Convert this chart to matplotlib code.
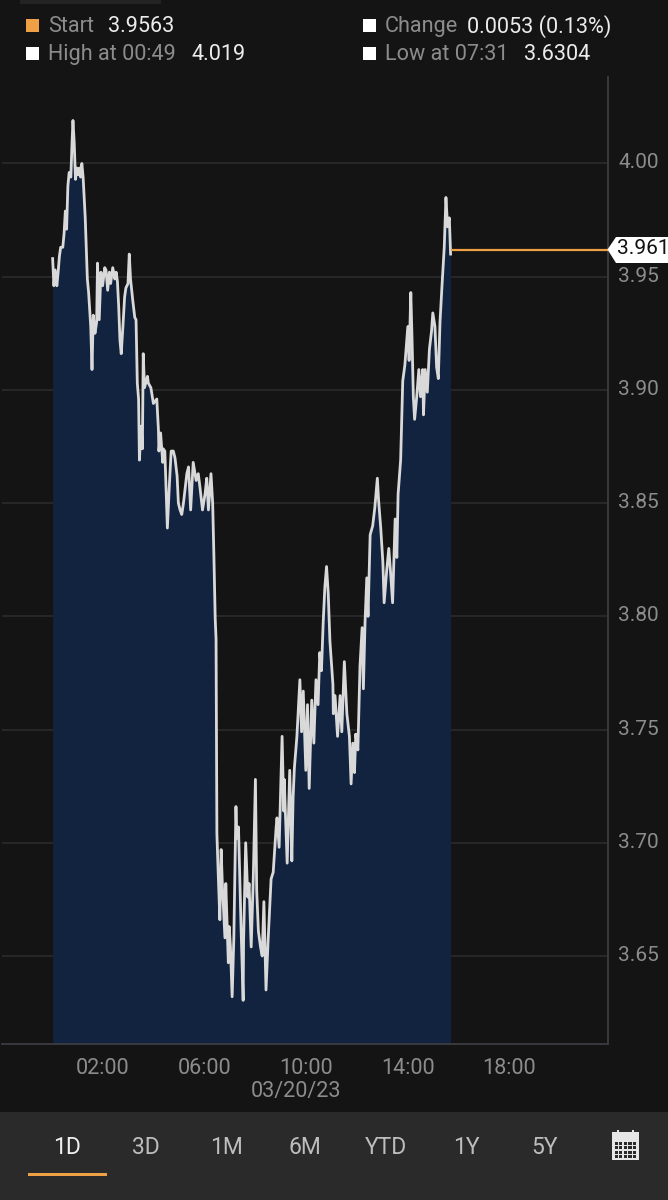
import matplotlib
matplotlib.use("Agg")
import matplotlib.pyplot as plt
from matplotlib.patches import Rectangle, Polygon
from matplotlib.transforms import ScaledTranslation

plt.rcParams['font.family'] = ['Roboto', 'DejaVu Sans']

# minutes since midnight and yield
time_min = [
    1, 4, 7, 11, 14, 17, 20, 25, 28, 31,
    34, 37, 40, 44, 47, 49, 52, 55, 58, 61,
    64, 67, 70, 73, 78, 83, 86, 91, 94, 97,
    101, 105, 107, 111, 115, 119, 124, 127, 131, 135,
    138, 143, 148, 151, 154, 157, 160, 163, 167, 171,
    174, 179, 182, 185, 190, 195, 198, 201, 204, 206,
    210, 213, 215, 218, 225, 227, 233, 239, 247, 251,
    252, 256, 261, 262, 266, 272, 277, 281, 286, 290,
    295, 298, 302, 306, 310, 318, 322, 327, 333, 340,
    345, 349, 355, 361, 365, 369, 375, 379, 382, 385,
    387, 389, 392, 396, 399, 402, 408, 410, 416, 418,
    421, 425, 429, 434, 436, 440, 446, 451, 452, 457,
    462, 465, 470, 475, 480, 483, 487, 492, 496, 500,
    505, 510, 517, 522, 529, 531, 536, 543, 547, 548,
    555, 561, 566, 569, 572, 578, 585, 589, 593, 599,
    603, 607, 613, 618, 623, 628, 632, 636, 640, 644,
    648, 652, 656, 663, 664, 668, 674, 680, 684, 690,
    696, 702, 706, 710, 714, 717, 722, 727, 732, 735,
    739, 743, 746, 751, 757, 762, 768, 771, 776, 781,
    784, 790, 795, 799, 804, 810, 814, 817, 823, 825,
    828, 833, 840, 843, 847, 850, 853, 856, 861, 866,
    870, 875, 877, 881, 886, 891, 896, 899, 904, 908,
    912, 916, 921, 926, 930, 934, 938, 941,
]
price = [
    3.958, 3.946, 3.953, 3.946, 3.952, 3.959, 3.963, 3.963, 3.969, 3.979,
    3.971, 3.990, 3.996, 3.994, 4.010, 4.019, 4.009, 3.993, 3.998, 3.995,
    3.998, 3.994, 4.000, 3.994, 3.976, 3.949, 3.943, 3.928, 3.909, 3.933,
    3.925, 3.930, 3.956, 3.931, 3.952, 3.946, 3.954, 3.953, 3.944, 3.952,
    3.947, 3.954, 3.949, 3.952, 3.948, 3.937, 3.922, 3.916, 3.928, 3.941,
    3.945, 3.947, 3.960, 3.949, 3.940, 3.932, 3.931, 3.903, 3.896, 3.869,
    3.884, 3.874, 3.916, 3.901, 3.906, 3.903, 3.901, 3.894, 3.896, 3.882,
    3.873, 3.881, 3.868, 3.874, 3.873, 3.839, 3.859, 3.873, 3.873, 3.870,
    3.862, 3.850, 3.847, 3.845, 3.850, 3.863, 3.866, 3.847, 3.868, 3.860,
    3.863, 3.857, 3.847, 3.854, 3.861, 3.847, 3.863, 3.850, 3.826, 3.799,
    3.790, 3.704, 3.687, 3.666, 3.697, 3.681, 3.658, 3.682, 3.647, 3.663,
    3.654, 3.632, 3.658, 3.716, 3.702, 3.707, 3.663, 3.6304, 3.656, 3.700,
    3.676, 3.682, 3.654, 3.685, 3.728, 3.679, 3.661, 3.654, 3.650, 3.674,
    3.635, 3.657, 3.684, 3.687, 3.707, 3.711, 3.698, 3.747, 3.714, 3.728,
    3.691, 3.732, 3.692, 3.720, 3.733, 3.747, 3.772, 3.749, 3.767, 3.732,
    3.761, 3.724, 3.763, 3.744, 3.772, 3.761, 3.784, 3.776, 3.797, 3.813,
    3.822, 3.810, 3.789, 3.770, 3.757, 3.765, 3.747, 3.765, 3.749, 3.780,
    3.757, 3.747, 3.726, 3.744, 3.731, 3.748, 3.741, 3.778, 3.795, 3.768,
    3.798, 3.817, 3.800, 3.836, 3.840, 3.848, 3.861, 3.851, 3.839, 3.824,
    3.806, 3.820, 3.830, 3.820, 3.806, 3.843, 3.826, 3.854, 3.869, 3.883,
    3.904, 3.911, 3.928, 3.913, 3.943, 3.922, 3.897, 3.887, 3.897, 3.909,
    3.897, 3.909, 3.889, 3.909, 3.899, 3.918, 3.926, 3.934, 3.928, 3.910,
    3.905, 3.930, 3.947, 3.963, 3.985, 3.972, 3.976, 3.960,
]

y_ticks = [3.65, 3.70, 3.75, 3.80, 3.85, 3.90, 3.95, 4.00]
x_ticks = [120, 360, 600, 840, 1080]
x_labels = ["02:00", "06:00", "10:00", "14:00", "18:00"]
last_value = 3.962
last_label = "3.961"
periods = ["1D", "3D", "1M", "6M", "YTD", "1Y", "5Y"]
period_x = [67, 146, 227, 305, 386, 466, 545]

W, H = 668, 1200
BG = "#141414"
GREY = "#8c8c8c"
ORANGE = "#eda144"


def fx(x):
    return x / W


def fy(y):
    return 1 - y / H


def box(fig, x, y, w, h, color):
    fig.add_artist(Rectangle((fx(x), fy(y + h)), w / W, h / H, color=color, lw=0, transform=fig.transFigure))


def label(fig, x, y, s, color=GREY, size=15.6, ha="left"):
    fig.text(fx(x), fy(y), s, color=color, fontsize=size, ha=ha, va="center")


fig = plt.figure(figsize=(W / 100, H / 100), dpi=100, facecolor=BG)
ax = fig.add_axes([fx(2), fy(1044.3), 606 / W, (1044.3 - 77) / H], facecolor=BG)

ax.fill_between(time_min, price, 3.5, color="#122340", lw=0, zorder=2)
ax.plot(time_min, price, color="#d9d9d9", lw=2.0, zorder=3)
ax.hlines(last_value, time_min[-1], 1313, color=ORANGE, lw=1.6, zorder=3)

ax.set_xlim(-118.6, 1312.8)
ax.set_ylim(3.611, 4.0382)
ax.set_yticks(y_ticks)
ax.set_yticklabels(["%.2f" % v for v in y_ticks])
ax.set_xticks(x_ticks)
ax.set_xticklabels(x_labels)
ax.yaxis.tick_right()
ax.tick_params(axis="y", length=0, pad=7.5, labelsize=15, labelcolor=GREY)
ax.tick_params(axis="x", length=0, pad=10, labelsize=15.6, labelcolor=GREY)
ax.grid(axis="y", color="#2b2b2b", lw=1.2, zorder=1)
for s in ["top", "left"]:
    ax.spines[s].set_visible(False)
for s in ["right", "bottom"]:
    ax.spines[s].set_color("#3a3a3e")
    ax.spines[s].set_linewidth(1.4)

# the y labels sit a little above their grid lines
up = ScaledTranslation(0, 2.5 / 100, fig.dpi_scale_trans)
for t in ax.get_yticklabels():
    t.set_transform(t.get_transform() + up)

# price flag on the right
fig.add_artist(Polygon([(fx(607.5), fy(249.5)), (fx(616), fy(237)), (fx(668), fy(237)),
                        (fx(668), fy(263)), (fx(616), fy(263))],
                       closed=True, color="white", lw=0, transform=fig.transFigure))
label(fig, 617, 249, last_label, color="#111111", size=15)

# legend on top
box(fig, 20, 0, 141, 4, "#232323")
box(fig, 26, 19, 13, 13, ORANGE)
box(fig, 26, 47, 13, 13, "white")
box(fig, 363, 19, 13, 13, "white")
box(fig, 363, 47, 13, 13, "white")
label(fig, 48, 26.5, "Start")
label(fig, 108, 26.5, "3.9563", color="#ececec")
label(fig, 48, 54.5, "High at 00:49")
label(fig, 192, 54.5, "4.019", color="#ececec")
label(fig, 385, 26.5, "Change")
label(fig, 467, 26.5, "0.0053 (0.13%)", color="#ececec")
label(fig, 385, 54.5, "Low at 07:31")
label(fig, 524, 54.5, "3.6304", color="#ececec")

label(fig, 296.5, 1092, "03/20/23", ha="center")

# range selector
box(fig, 0, 1112, W, 88, "#2a2a2a")
for i in range(len(periods)):
    c = "#f0f0f0" if i == 0 else "#bdbdbd"
    label(fig, period_x[i], 1147, periods[i], color=c, size=16.5, ha="center")
box(fig, 28, 1172.5, 79, 3, ORANGE)

# calendar icon
box(fig, 612, 1132, 27, 28, "#e6e6e6")
box(fig, 617, 1130, 2, 3, "#e6e6e6")
box(fig, 632, 1130, 2, 3, "#e6e6e6")
for r in range(4):
    for c in range(5):
        box(fig, 614.5 + c * 4.6, 1142 + r * 4.4, 3.2, 3, "#2a2a2a")

fig.savefig("out.png", dpi=100, facecolor=BG)
